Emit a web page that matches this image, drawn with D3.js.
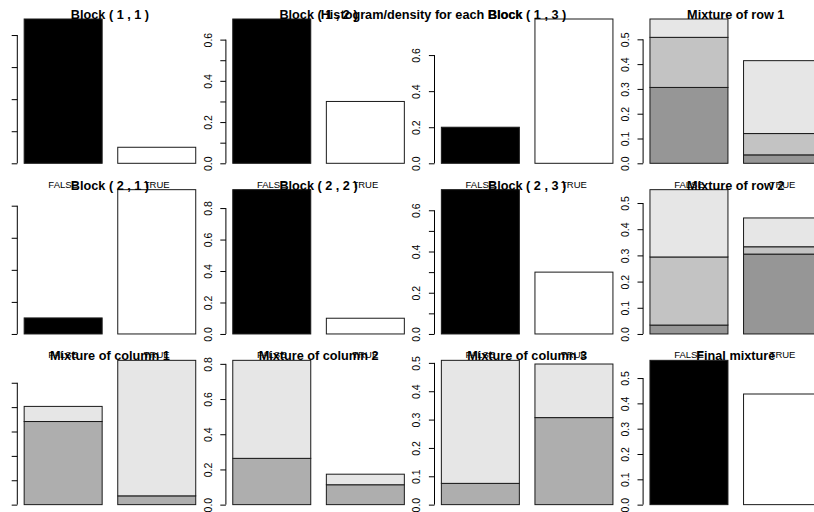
<!DOCTYPE html>
<html>
<head>
<meta charset="utf-8">
<script src="https://cdnjs.cloudflare.com/ajax/libs/d3/7.8.5/d3.min.js"></script>
<style>
  body { margin: 0; background: #fff; }
  svg { display: block; }
  text { font-family: "Liberation Sans", Arial, sans-serif; fill: #000; }
</style>
</head>
<body>
<svg id="chart" width="814" height="512"></svg>
<script>
const outerTitle = "Histogram/density for each Block";
const panelTitles = [
  "Block ( 1 , 1 )", "Block ( 1 , 2 )", "Block ( 1 , 3 )", "Mixture of row 1",
  "Block ( 2 , 1 )", "Block ( 2 , 2 )", "Block ( 2 , 3 )", "Mixture of row 2",
  "Mixture of column 1", "Mixture of column 2", "Mixture of column 3", "Final mixture"
];
const barNames = ["FALSE", "TRUE"];

// single blocks: [FALSE, TRUE]
const block11 = [0.9, 0.1];
const block12 = [0.7, 0.3];
const block13 = [0.2, 0.8];
const block21 = [0.1, 0.9];
const block22 = [0.917, 0.1];
const block23 = [0.7, 0.3];

// mixtures: one array per bar, segments from bottom to top
const mixRow1 = [[0.306, 0.202, 0.074], [0.034, 0.086, 0.294]];
const mixRow2 = [[0.034, 0.26, 0.257], [0.305, 0.028, 0.11]];
const mixCol1 = [[0.341, 0.062], [0.036, 0.556]];
const mixCol2 = [[0.263, 0.557], [0.113, 0.06]];
const mixCol3 = [[0.075, 0.434], [0.307, 0.189]];
const finalMix = [0.57, 0.437];

const blockFill = ["#000000", "#ffffff"];
const rowFill = ["#969696", "#c3c3c3", "#e6e6e6"];
const colFill = ["#aeaeae", "#e6e6e6"];

const single = (vals) => ({ bars: vals.map((v) => [v]), fill: (b, s) => blockFill[b] });
const stacked = (vals, cols) => ({ bars: vals, fill: (b, s) => cols[s] });

const panels = [
  single(block11), single(block12), single(block13), stacked(mixRow1, rowFill),
  single(block21), single(block22), single(block23), stacked(mixRow2, rowFill),
  stacked(mixCol1, colFill), stacked(mixCol2, colFill), stacked(mixCol3, colFill), single(finalMix)
];

// layout (R style 3 x 4 grid, picture is cropped at the sides)
const axisX0 = 17.3;
const panelStep = 208.6;
const rowStep = 512 / 3;
const zeroY0 = 163.3;
const topY0 = 19;
const plotW = 185.3;

const svg = d3.select("#chart");

// first column: the figure region starts a little right of the image edge,
// so its tick labels are clipped away
svg.append("defs").append("clipPath")
  .attr("id", "firstCol")
  .append("rect")
  .attr("x", -8).attr("y", -20)
  .attr("width", 300).attr("height", 600);

panels.forEach((p, i) => {
  const r = Math.floor(i / 4), c = i % 4;
  const ax = axisX0 + c * panelStep;
  const zeroY = zeroY0 + r * rowStep;
  const topY = topY0 + r * rowStep;
  const g = svg.append("g");

  const x = d3.scaleLinear().domain([0.112, 2.488]).range([ax, ax + plotW]);
  const ymax = d3.max(p.bars, (b) => d3.sum(b));
  const y = d3.scaleLinear().domain([0, ymax]).range([zeroY, topY]);

  // bars
  p.bars.forEach((segs, b) => {
    const x0 = 0.2 + 1.2 * b;
    let base = 0;
    segs.forEach((v, s) => {
      g.append("rect")
        .attr("x", x(x0))
        .attr("width", x(x0 + 1) - x(x0))
        .attr("y", y(base + v))
        .attr("height", y(base) - y(base + v))
        .attr("fill", p.fill(b, s))
        .attr("stroke", "#1a1a1a")
        .attr("stroke-width", 1);
      base += v;
    });
    g.append("text")
      .attr("x", x(x0 + 0.5))
      .attr("y", zeroY + 24.2)
      .attr("text-anchor", "middle")
      .style("font-size", "9.5px")
      .text(barNames[b]);
  });

  // y axis, R style: ticks strictly inside the data range
  const ticks = y.ticks(5).filter((t) => t < ymax - 1e-9);
  const spacing = y(ticks[0]) - y(ticks[1]);
  const axis = d3.axisLeft(y)
    .tickValues(ticks)
    .tickSize(5.6)
    .tickSizeOuter(0)
    .tickFormat(d3.format(".1f"));
  const ag = g.append("g").attr("transform", `translate(${ax},0)`).call(axis);
  if (c === 0) ag.attr("clip-path", "url(#firstCol)");
  ag.select(".domain")
    .attr("d", `M0,${y(ticks[0])}V${y(ticks[ticks.length - 1])}`)
    .attr("stroke", "#000");
  ag.selectAll(".tick line").attr("stroke", "#000");
  ag.selectAll(".tick text")
    .attr("x", null)
    .attr("dy", null)
    .attr("text-anchor", "middle")
    .attr("transform", "translate(-14.2,0) rotate(-90)")
    .attr("fill", "#000")
    .style("font-family", "'Liberation Sans', Arial, sans-serif")
    .style("font-size", "10.5px")
    .style("display", (d, k) => (spacing < 22 && k % 2 === 1 ? "none" : null));

  // panel title
  g.append("text")
    .attr("x", ax + plotW / 2)
    .attr("y", topY)
    .attr("text-anchor", "middle")
    .style("font-size", "12.7px")
    .style("font-weight", "bold")
    .text(panelTitles[i]);
});

svg.append("text")
  .attr("x", 421.5)
  .attr("y", topY0)
  .attr("text-anchor", "middle")
  .style("font-size", "12.7px")
  .style("font-weight", "bold")
  .text(outerTitle);
</script>
</body>
</html>
